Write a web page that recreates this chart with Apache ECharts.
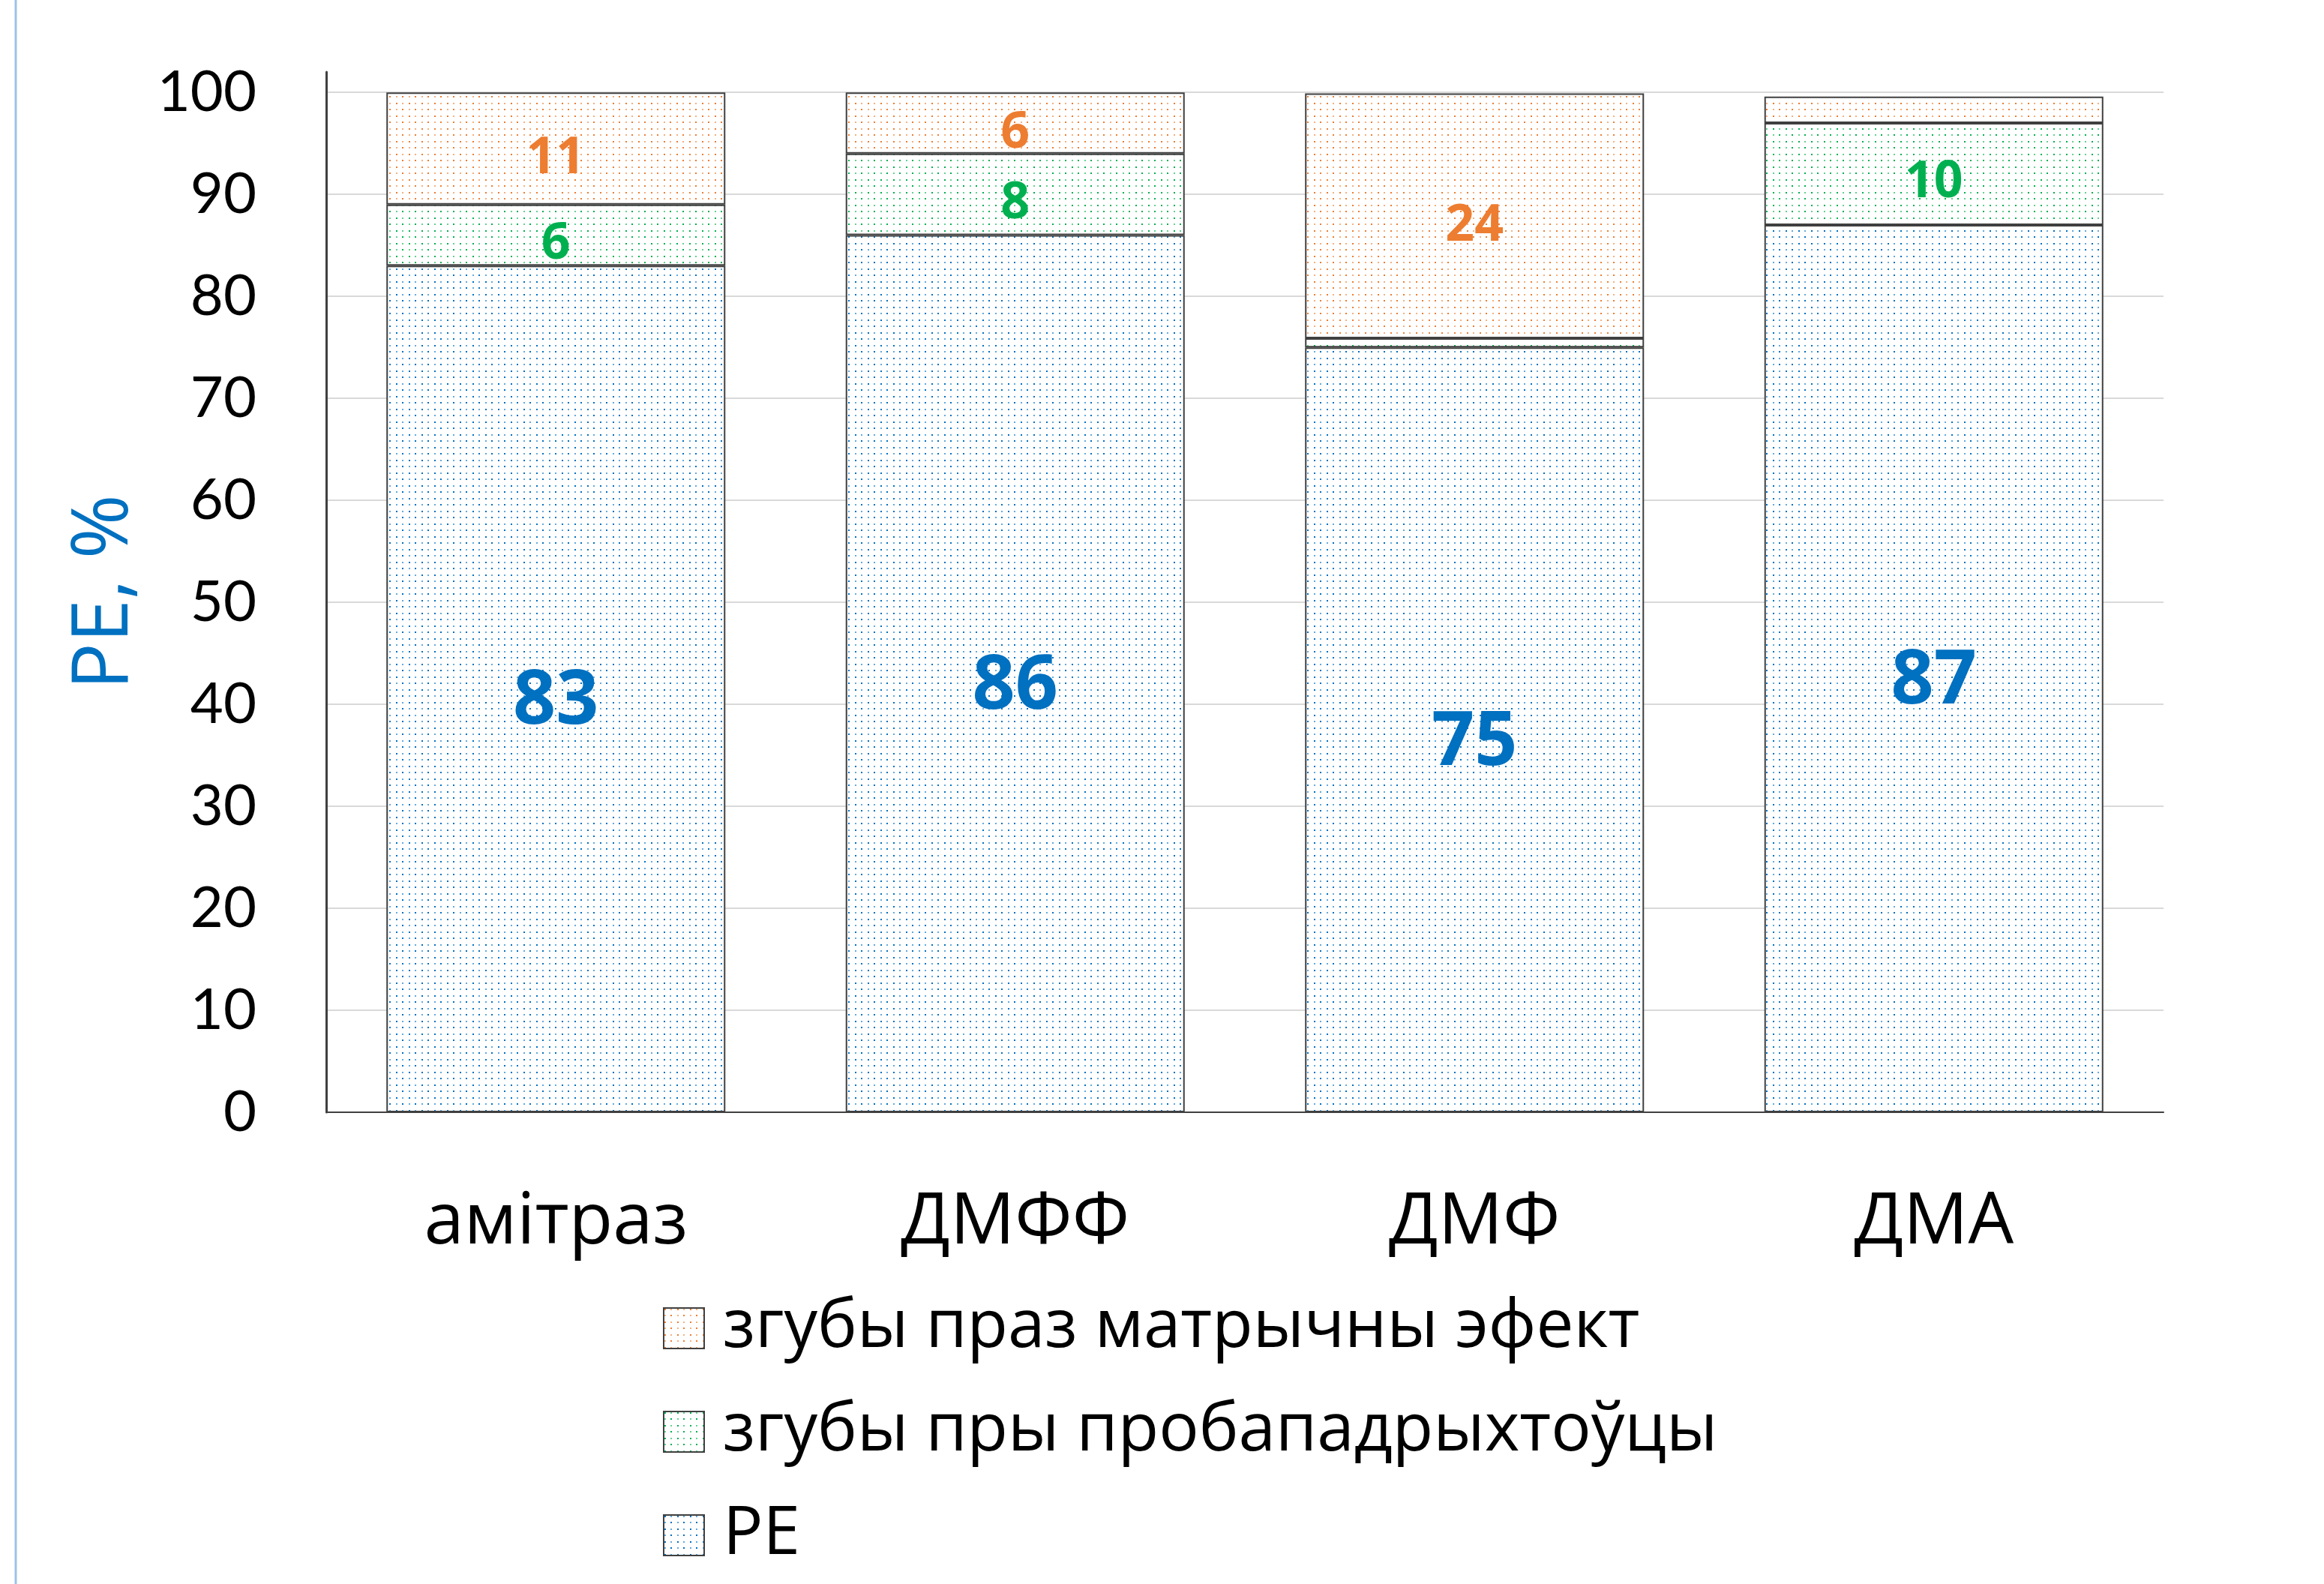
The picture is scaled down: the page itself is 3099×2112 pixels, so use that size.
<!DOCTYPE html>
<html>
<head>
<meta charset="utf-8">
<script src="https://cdn.jsdelivr.net/npm/echarts@6/dist/echarts.min.js"></script>
<style>
  html, body { margin: 0; padding: 0; background: #ffffff; }
  #chart { width: 3099px; height: 2112px; }
</style>
</head>
<body>
<div id="chart"></div>
<script>
// Recovery of acaricide compounds, stacked to 100 %
const categories = ['амітраз', 'ДМФФ', 'ДМФ', 'ДМА'];
const seriesNames = ['РЕ', 'згубы пры пробападрыхтоўцы', 'згубы праз матрычны эфект'];
const peValues = [83, 86, 75, 87];
const prepLossValues = [6, 8, 0.9, 10];
const matrixLossValues = [11, 6, 24, 2.6];
// which segments carry a value label
const prepLossLabelled = [true, true, false, true];
const matrixLossLabelled = [true, true, true, false];
const yTicks = [0, 10, 20, 30, 40, 50, 60, 70, 80, 90, 100];

const BLUE = '#0070C0';
const GREEN = '#00B050';
const ORANGE = '#ED7D31';

// dotted fill used for the bars and legend swatches
function dotPattern(color) {
  const c = document.createElement('canvas');
  c.width = 17; c.height = 17;
  const g = c.getContext('2d');
  g.fillStyle = '#ffffff';
  g.fillRect(0, 0, 17, 17);
  g.fillStyle = color;
  g.globalAlpha = 1;
  g.fillRect(1, 1, 2, 2);
  g.fillRect(9, 9, 2, 2);
  g.globalAlpha = 0.6;
  g.fillRect(9, 1, 2, 2);
  g.fillRect(1, 9, 2, 2);
  return { image: c, repeat: 'repeat' };
}

function withLabels(values, flags) {
  return values.map((v, i) => ({ value: v, label: { show: flags[i] } }));
}

const chart = echarts.init(document.getElementById('chart'), null, { renderer: 'canvas' });

const borderStyle = { borderColor: '#404040', borderWidth: 2 };
const FONT = '"Open Sans", "Noto Sans", sans-serif';

chart.setOption({
  backgroundColor: '#ffffff',
  animation: false,
  textStyle: { fontFamily: FONT },
  graphic: [{
    type: 'line',
    shape: { x1: 21, y1: 0, x2: 21, y2: 2112 },
    style: { stroke: '#9DC3E6', lineWidth: 3 },
    silent: true
  }],
  grid: { left: 435, right: 214, top: 96, bottom: 629, containLabel: false },
  legend: {
    orient: 'vertical',
    left: 879,
    top: 1720,
    icon: 'rect',
    itemWidth: 54,
    itemHeight: 54,
    itemGap: 46,
    data: [seriesNames[2], seriesNames[1], seriesNames[0]],
    textStyle: {
      fontSize: 89,
      lineHeight: 92,
      color: '#000000',
      fontFamily: FONT,
      padding: [0, 0, 0, 20]
    }
  },
  xAxis: {
    type: 'category',
    data: categories,
    axisLine: { show: true, lineStyle: { color: '#404040', width: 2 } },
    axisTick: { show: false },
    axisLabel: {
      fontSize: 96,
      color: '#000000',
      margin: 100,
      fontFamily: FONT
    }
  },
  yAxis: {
    type: 'value',
    min: 0,
    max: 102,
    interval: 10,
    name: 'РЕ, %',
    nameLocation: 'middle',
    nameRotate: 90,
    nameGap: 243,
    nameTextStyle: { color: BLUE, fontSize: 104, fontFamily: FONT },
    axisLine: { show: true, lineStyle: { color: '#404040', width: 3 } },
    axisTick: { show: false },
    axisLabel: {
      fontSize: 76,
      color: '#000000',
      margin: 93,
      showMaxLabel: false,
      fontFamily: '"Lato", "Open Sans", sans-serif',
      formatter: v => (yTicks.indexOf(v) >= 0 ? String(v) : '')
    },
    splitLine: { show: true, showMaxLine: false, lineStyle: { color: '#d9d9d9', width: 2 } }
  },
  series: [
    {
      name: seriesNames[0],
      type: 'bar',
      stack: 'total',
      barWidth: '73.8%',
      data: peValues,
      itemStyle: Object.assign({ color: dotPattern(BLUE) }, borderStyle),
      label: {
        show: true, position: 'inside', color: BLUE,
        offset: [0, 18],
        fontSize: 100, fontWeight: 'bold',
        fontFamily: FONT
      }
    },
    {
      name: seriesNames[1],
      type: 'bar',
      stack: 'total',
      data: withLabels(prepLossValues, prepLossLabelled),
      itemStyle: Object.assign({ color: dotPattern(GREEN) }, borderStyle),
      label: {
        position: 'inside', color: GREEN,
        offset: [0, 12],
        fontSize: 68, fontWeight: 'bold',
        fontFamily: FONT
      }
    },
    {
      name: seriesNames[2],
      type: 'bar',
      stack: 'total',
      data: withLabels(matrixLossValues, matrixLossLabelled),
      itemStyle: Object.assign({ color: dotPattern(ORANGE) }, borderStyle),
      label: {
        position: 'inside', color: ORANGE,
        offset: [0, 14],
        fontSize: 68, fontWeight: 'bold',
        fontFamily: FONT
      }
    }
  ]
});
</script>
</body>
</html>
